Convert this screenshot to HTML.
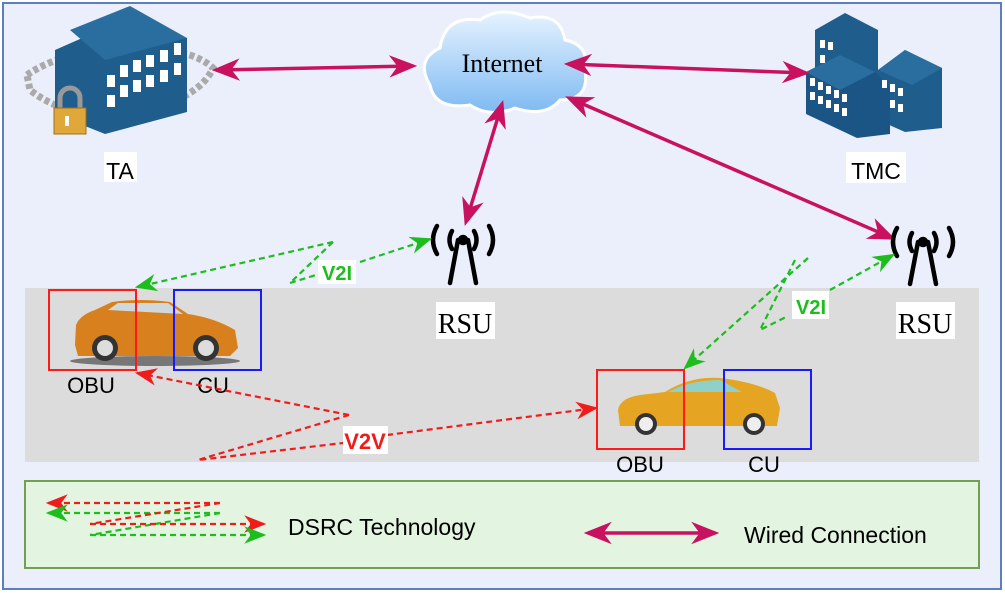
<!DOCTYPE html>
<html><head><meta charset="utf-8"><style>
html,body{margin:0;padding:0;background:#fff;}
svg{display:block;font-family:"Liberation Sans",sans-serif;}
</style></head><body>
<svg width="1005" height="594" viewBox="0 0 1005 594" xmlns="http://www.w3.org/2000/svg">
<defs>
<marker id="mw" viewBox="0 0 20 20" refX="17" refY="10" markerWidth="8" markerHeight="8" orient="auto-start-reverse" markerUnits="strokeWidth"><path d="M0,2 L20,10 L0,18 L6,10 Z" fill="#c8115f"/></marker>
<marker id="mg" viewBox="0 0 20 20" refX="18" refY="10" markerWidth="10" markerHeight="10" orient="auto" markerUnits="strokeWidth"><path d="M0,2 L20,10 L0,18 L6,10 Z" fill="#1cbd1c"/></marker>
<marker id="mr" viewBox="0 0 20 20" refX="18" refY="10" markerWidth="10" markerHeight="10" orient="auto" markerUnits="strokeWidth"><path d="M0,2 L20,10 L0,18 L6,10 Z" fill="#f01c1c"/></marker>
<linearGradient id="cl" x1="0" y1="0" x2="0" y2="1"><stop offset="0" stop-color="#e6f3ff"/><stop offset="1" stop-color="#7fbaf2"/></linearGradient>
</defs>
<rect x="3" y="3" width="998" height="586" fill="#ebeffb" stroke="#5b7fbf" stroke-width="2"/>
<rect x="25" y="288" width="954" height="174" fill="#dcdcdc"/>
<rect x="25" y="481" width="954" height="87" fill="#e3f5e1" stroke="#70a050" stroke-width="2"/>

<!-- TA building -->
<g>
<path d="M27,75 Q60,52 120,48 Q190,46 213,68 Q200,98 140,112 Q70,122 30,90Z" fill="none" stroke="#aaa" stroke-width="7" stroke-dasharray="5 3"/>
<polygon points="55,50 105,28 187,38 187,112 105,134 55,114" fill="#1e5d8c"/>
<polygon points="70,30 130,6 187,38 105,60" fill="#2a6ea0"/>
<g fill="#fff">
<rect x="120" y="65" width="8" height="12"/><rect x="133" y="60" width="8" height="12"/><rect x="146" y="55" width="8" height="12"/><rect x="160" y="50" width="8" height="12"/><rect x="174" y="43" width="7" height="12"/>
<rect x="120" y="85" width="8" height="12"/><rect x="133" y="80" width="8" height="12"/><rect x="146" y="75" width="8" height="12"/><rect x="160" y="70" width="8" height="12"/><rect x="174" y="63" width="7" height="12"/>
<rect x="107" y="95" width="8" height="12"/><rect x="107" y="75" width="8" height="12"/>
</g>
<path d="M60,110 v-12 a10,10 0 0 1 20,0 v12" fill="none" stroke="#999" stroke-width="5"/>
<rect x="54" y="108" width="32" height="26" fill="#e0a83a" stroke="#9a7020"/>
<rect x="65" y="116" width="4" height="10" fill="#fff"/>
</g>
<rect x="104" y="152" width="33" height="30" fill="#fff"/>
<text x="120" y="179" font-size="23" text-anchor="middle">TA</text>

<!-- Cloud -->
<path d="M430,85 Q415,60 440,48 Q445,15 480,20 Q500,5 530,18 Q560,12 565,40 Q590,45 585,70 Q590,100 560,100 Q545,118 515,108 Q490,118 470,105 Q435,110 430,85Z" fill="url(#cl)" stroke="#fff" stroke-width="3"/>
<text x="502" y="72" font-family="Liberation Serif,serif" font-size="26" text-anchor="middle">Internet</text>

<!-- TMC -->
<g>
<polygon points="815,30 845,13 878,30 878,90 815,90" fill="#1e5d8c"/>
<polygon points="878,70 905,50 942,68 942,128 905,132 878,120" fill="#1e5d8c"/>
<polygon points="806,72 840,55 875,72 890,88 890,134 857,138 806,114" fill="#1a5585"/>
<polygon points="806,72 840,55 875,72 840,90" fill="#2a6ea0"/>
<polygon points="878,70 905,50 942,68 912,85" fill="#2a6ea0"/>
<g fill="#fff">
<rect x="810" y="78" width="5" height="8"/><rect x="818" y="82" width="5" height="8"/><rect x="826" y="86" width="5" height="8"/><rect x="834" y="90" width="5" height="8"/><rect x="842" y="94" width="5" height="8"/>
<rect x="810" y="92" width="5" height="8"/><rect x="818" y="96" width="5" height="8"/><rect x="826" y="100" width="5" height="8"/><rect x="834" y="104" width="5" height="8"/><rect x="842" y="108" width="5" height="8"/>
<rect x="882" y="80" width="5" height="8"/><rect x="890" y="84" width="5" height="8"/><rect x="898" y="88" width="5" height="8"/>
<rect x="890" y="100" width="5" height="8"/><rect x="898" y="104" width="5" height="8"/>
<rect x="820" y="40" width="5" height="8"/><rect x="828" y="42" width="5" height="8"/><rect x="820" y="55" width="5" height="8"/>
</g>
</g>
<rect x="846" y="152" width="60" height="31" fill="#fff"/>
<text x="876" y="179" font-size="23" text-anchor="middle">TMC</text>

<!-- Wired arrows -->
<g stroke="#c8115f" stroke-width="3.5" fill="none">
<line x1="216" y1="70" x2="413" y2="66" marker-start="url(#mw)" marker-end="url(#mw)"/>
<line x1="568" y1="64" x2="806" y2="73" marker-start="url(#mw)" marker-end="url(#mw)"/>
<line x1="502" y1="104" x2="466" y2="222" marker-start="url(#mw)" marker-end="url(#mw)"/>
<line x1="569" y1="98" x2="892" y2="238" marker-start="url(#mw)" marker-end="url(#mw)"/>
</g>

<!-- RSU antennas -->
<g stroke="#000" stroke-width="4.5" fill="none" stroke-linecap="round">
<g transform="translate(463,0)">
<path d="M-5,240 L-13,283 M5,240 L13,283"/><circle cx="0" cy="240" r="3" fill="#000"/>
<path d="M-11,231 Q-16,240 -11,249 M11,231 Q16,240 11,249"/>
<path d="M-26,226 Q-34,240 -26,254 M26,226 Q34,240 26,254"/>
</g>
<g transform="translate(923,0)">
<path d="M-5,242 L-13,284 M5,242 L13,284"/><circle cx="0" cy="242" r="3" fill="#000"/>
<path d="M-11,233 Q-16,242 -11,251 M11,233 Q16,242 11,251"/>
<path d="M-26,228 Q-34,242 -26,256 M26,228 Q34,242 26,256"/>
</g>
</g>
<rect x="436" y="302" width="59" height="37" fill="#fff"/>
<text x="465" y="333" font-family="Liberation Serif,serif" font-size="28" text-anchor="middle">RSU</text>
<rect x="896" y="302" width="59" height="37" fill="#fff"/>
<text x="925" y="333" font-family="Liberation Serif,serif" font-size="28" text-anchor="middle">RSU</text>

<!-- Car 1 (SUV) -->
<g>
<ellipse cx="155" cy="361" rx="85" ry="5" fill="#333" opacity="0.6"/>
<path d="M75,345 L76,325 Q80,315 95,310 L112,302 Q140,298 170,302 L188,314 Q215,318 235,330 L238,348 L230,356 L78,356Z" fill="#d9801e"/>
<path d="M108,310 L118,303 L168,303 L183,314Z" fill="#cfd8dc"/>
<circle cx="105" cy="348" r="13" fill="#333"/><circle cx="105" cy="348" r="8" fill="#ddd"/>
<circle cx="206" cy="348" r="13" fill="#333"/><circle cx="206" cy="348" r="8" fill="#ddd"/>
</g>
<rect x="49" y="290" width="87" height="80" fill="none" stroke="#ff1a1a" stroke-width="2"/>
<rect x="174" y="290" width="87" height="80" fill="none" stroke="#1a1aff" stroke-width="2"/>
<text x="91" y="393" font-size="22" text-anchor="middle">OBU</text>
<text x="213" y="393" font-size="22" text-anchor="middle">CU</text>

<!-- Car 2 (sedan) -->
<g>
<path d="M618,410 Q620,398 640,395 L665,392 Q690,376 720,378 Q755,382 775,393 L780,408 L777,426 L620,426Z" fill="#e5a523"/>
<path d="M668,392 Q690,380 720,380 L742,392Z" fill="#8fd0c9"/>
<circle cx="646" cy="424" r="11" fill="#333"/><circle cx="646" cy="424" r="7" fill="#eee"/>
<circle cx="754" cy="424" r="11" fill="#333"/><circle cx="754" cy="424" r="7" fill="#eee"/>
</g>
<rect x="597" y="370" width="87" height="79" fill="none" stroke="#ff1a1a" stroke-width="2"/>
<rect x="724" y="370" width="87" height="79" fill="none" stroke="#1a1aff" stroke-width="2"/>
<text x="640" y="472" font-size="22" text-anchor="middle">OBU</text>
<text x="764" y="472" font-size="22" text-anchor="middle">CU</text>

<!-- V2I left -->
<g stroke="#1cbd1c" stroke-width="2.2" fill="none" stroke-dasharray="6 4">
<polyline points="333,242 290,283" />
<line x1="333" y1="242" x2="137" y2="287" marker-end="url(#mg)"/>
<polyline points="290,283 316,275" />
<line x1="360" y1="262" x2="430" y2="239" marker-end="url(#mg)"/>
</g>
<rect x="318" y="260" width="38" height="24" fill="#fff"/>
<text x="337" y="280" font-size="20" font-weight="bold" fill="#1cbd1c" text-anchor="middle">V2I</text>

<!-- V2I right -->
<g stroke="#1cbd1c" stroke-width="2.2" fill="none" stroke-dasharray="6 4">
<line x1="808" y1="258" x2="685" y2="368" marker-end="url(#mg)"/>
<polyline points="795,260 760,330 788,316"/>
<line x1="830" y1="290" x2="893" y2="255" marker-end="url(#mg)"/>
</g>
<rect x="792" y="291" width="37" height="28" fill="#fff"/>
<text x="811" y="314" font-size="20" font-weight="bold" fill="#1cbd1c" text-anchor="middle">V2I</text>

<!-- V2V -->
<g stroke="#f01c1c" stroke-width="2.2" fill="none" stroke-dasharray="6 4">
<line x1="349" y1="415" x2="137" y2="373" marker-end="url(#mr)"/>
<polyline points="349,415 198,460 343,443"/>
<line x1="387" y1="435" x2="596" y2="408" marker-end="url(#mr)"/>
</g>
<rect x="343" y="426" width="45" height="28" fill="#fff"/>
<text x="365" y="449" font-size="22" font-weight="bold" fill="#f01c1c" text-anchor="middle">V2V</text>

<!-- Legend -->
<g stroke-width="2.2" fill="none" stroke-dasharray="6 4">
<line x1="220" y1="503" x2="48" y2="503" stroke="#f01c1c" marker-end="url(#mr)"/>
<line x1="220" y1="513" x2="48" y2="513" stroke="#1cbd1c" marker-end="url(#mg)"/>
<polyline points="220,503 90,524" stroke="#f01c1c"/>
<polyline points="220,513 90,535" stroke="#1cbd1c"/>
<line x1="90" y1="524" x2="264" y2="524" stroke="#f01c1c" marker-end="url(#mr)"/>
<line x1="90" y1="535" x2="264" y2="535" stroke="#1cbd1c" marker-end="url(#mg)"/>
</g>
<text x="288" y="535" font-size="23">DSRC Technology</text>
<line x1="588" y1="533" x2="715" y2="533" stroke="#c8115f" stroke-width="3.5" marker-start="url(#mw)" marker-end="url(#mw)"/>
<text x="744" y="543" font-size="23">Wired Connection</text>
</svg>
</body></html>
